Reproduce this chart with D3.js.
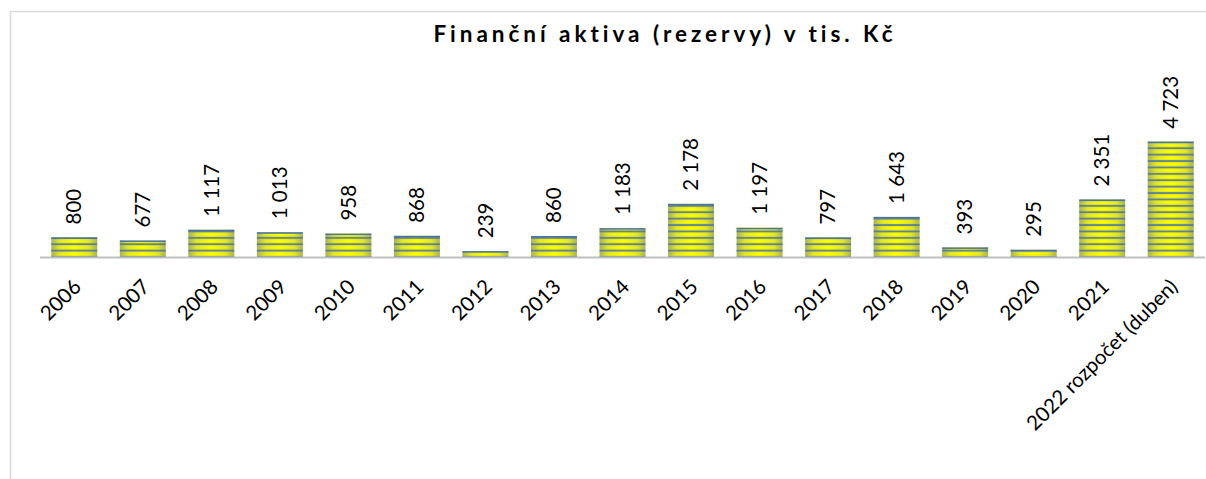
<!DOCTYPE html>
<html><head><meta charset="utf-8">
<script src="https://cdn.jsdelivr.net/npm/d3@7"></script>
<style>body{margin:0;background:#fff}svg{display:block}</style>
</head><body>
<svg id="c" width="1206" height="479"></svg>
<script>
const categories = ["2006","2007","2008","2009","2010","2011","2012","2013","2014","2015","2016","2017","2018","2019","2020","2021","2022 rozpočet (duben)"];
const values = [800,677,1117,1013,958,868,239,860,1183,2178,1197,797,1643,393,295,2351,4723];
const title = "Finanční aktiva (rezervy) v tis. Kč";

const svg = d3.select("#c");
const W = 1206, H = 479;
const baseY = 257;
const FONT = "Lato, 'Open Sans', sans-serif";

// frame
svg.append("rect").attr("x",10.5).attr("y",11.5).attr("width",W).attr("height",H)
  .attr("fill","none").attr("stroke","#d9d9d9").attr("stroke-width",1.5);

const x = d3.scaleBand().domain(categories).range([40,1205]).paddingInner(0.33).paddingOuter(0.165);
const y = d3.scaleLinear().domain([0,5000]).range([baseY, baseY-122.05]);

const defs = svg.append("defs");
const g = defs.append("linearGradient").attr("id","hg").attr("x1","0").attr("x2","1").attr("y1","0").attr("y2","0");
g.append("stop").attr("offset","0").attr("stop-color","#a3b05a");
g.append("stop").attr("offset","0.18").attr("stop-color","#e3e62a");
g.append("stop").attr("offset","0.5").attr("stop-color","#ffff00");
g.append("stop").attr("offset","0.82").attr("stop-color","#e3e62a");
g.append("stop").attr("offset","1").attr("stop-color","#a3b05a");

const per = 6.4;
const pat = defs.append("pattern").attr("id","stripes").attr("patternUnits","userSpaceOnUse")
  .attr("x",0).attr("y",baseY).attr("width",10).attr("height",per);
const vg = defs.append("linearGradient").attr("id","vg").attr("x1","0").attr("x2","0").attr("y1","0").attr("y2","1");
vg.append("stop").attr("offset","0").attr("stop-color","#7d8a30").attr("stop-opacity",0.35);
vg.append("stop").attr("offset","0.5").attr("stop-color","#ffff00").attr("stop-opacity",0);
vg.append("stop").attr("offset","1").attr("stop-color","#7d8a30").attr("stop-opacity",0.35);
pat.append("rect").attr("x",0).attr("y",0).attr("width",10).attr("height",per).attr("fill","url(#vg)");
pat.append("rect").attr("x",0).attr("y",-0.7).attr("width",10).attr("height",1.5).attr("fill","#4a74a6");
pat.append("rect").attr("x",0).attr("y",per-0.7).attr("width",10).attr("height",1.5).attr("fill","#4a74a6");

const bars = svg.append("g");
bars.selectAll("rect.b").data(values).join("rect").attr("class","b")
  .attr("x",(d,i)=>x(categories[i])).attr("width",x.bandwidth())
  .attr("y",d=>y(d)).attr("height",d=>baseY-y(d)).attr("fill","url(#hg)");
bars.selectAll("rect.s").data(values).join("rect").attr("class","s")
  .attr("x",(d,i)=>x(categories[i])).attr("width",x.bandwidth())
  .attr("y",d=>y(d)).attr("height",d=>baseY-y(d)).attr("fill","url(#stripes)");
bars.selectAll("rect.t").data(values).join("rect").attr("class","t")
  .attr("x",(d,i)=>x(categories[i])).attr("width",x.bandwidth())
  .attr("y",d=>y(d)).attr("height",1.5).attr("fill","#4a74a6");

// baseline
svg.append("line").attr("x1",40).attr("x2",1205).attr("y1",baseY+0.5).attr("y2",baseY+0.5)
  .attr("stroke","#bfbfbf").attr("stroke-width",2);

const loc = d3.formatLocale({decimal:",",thousands:" ",grouping:[3],currency:["",""]});
const fmt = loc.format(",d");

svg.append("g").selectAll("text").data(values).join("text")
  .attr("transform",(d,i)=>`translate(${x(categories[i])+x.bandwidth()/2},${y(d)-13}) rotate(-90)`)
  .attr("dy","0.35em").attr("text-anchor","start")
  .attr("font-family",FONT).attr("font-size",20.5).attr("fill","#000")
  .text(d=>fmt(d));

svg.append("g").selectAll("text").data(categories).join("text")
  .attr("transform",d=>`translate(${x(d)+x.bandwidth()/2+3},${baseY+26}) rotate(-45)`)
  .attr("text-anchor","end").attr("dy","0.35em")
  .attr("font-family",FONT).attr("font-size",20.5).attr("fill","#000")
  .text(d=>d);

const t = svg.append("text").attr("x",663).attr("y",42).attr("text-anchor","middle")
  .attr("font-family",FONT).attr("font-weight","bold").attr("font-size",22.5)
  .attr("fill","#000").text(title);
const n = title.length;
const base = t.node().getComputedTextLength();
const ls = (460 - base)/(n-1);
t.attr("letter-spacing", ls.toFixed(2)+"px").attr("x", 663 + ls/2);
</script>
</body></html>
